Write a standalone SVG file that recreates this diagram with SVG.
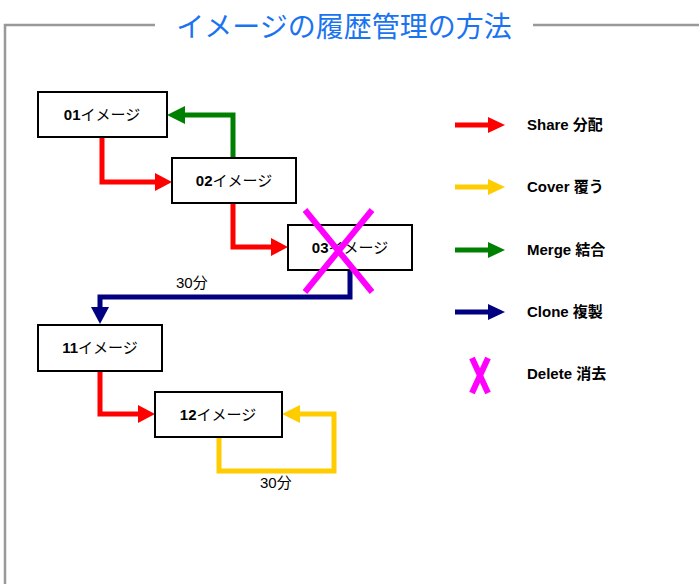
<svg xmlns="http://www.w3.org/2000/svg" width="699" height="585" viewBox="0 0 699 585">
<style>
.frame{fill:none;stroke:#999;stroke-width:2.5}
.box{fill:#fff;stroke:#000;stroke-width:2}
.lbl{font-family:"Liberation Sans","Noto Sans CJK JP",sans-serif;font-size:15px;text-anchor:middle;fill:#000}
.lbl .d{font-weight:bold}
.leg{font-family:"Liberation Sans","Noto Sans CJK JP",sans-serif;font-size:15px;font-weight:bold;fill:#000}
.note{font-family:"Liberation Sans","Noto Sans CJK JP",sans-serif;font-size:15px;fill:#000}
.ln{fill:none;stroke-width:5;stroke-linejoin:miter}
.red{stroke:#ff0000}.yel{stroke:#ffcc00}.grn{stroke:#008000}.nav{stroke:#000080}
.x{stroke:#ff00ff;stroke-width:6;fill:none}
</style>
<g id="frame">
<path class="frame" d="M5,584 V25 H155"/>
<path class="frame" d="M533,25 H699"/>
<text x="344" y="37" font-family="'Noto Sans CJK JP',sans-serif" font-size="28" fill="#1a73f0" text-anchor="middle">イメージの履歴管理の方法</text>
</g>
<g id="connectors">
<path class="ln red" d="M102,137 V182 H157"/>
<polygon points="155,173 172,182 155,191" fill="#ff0000"/>
<path class="ln grn" d="M233,158 V115 H183"/>
<polygon points="185,106 167,115 185,124" fill="#008000"/>
<path class="ln red" d="M233,203 V247 H273"/>
<polygon points="271,238 288,247 271,256" fill="#ff0000"/>
<path class="ln nav" d="M350,270 V297 H100 V310"/>
<polygon points="91,307 100,324 109,307" fill="#000080"/>
<path class="ln red" d="M100,371 V414 H140"/>
<polygon points="138,405 155,414 138,423" fill="#ff0000"/>
<path class="ln yel" d="M219,437 V471 H334 V414 H298"/>
<polygon points="300,405 282,414 300,423" fill="#ffcc00"/>
<text class="note" x="176" y="288">30分</text>
<text class="note" x="260" y="488">30分</text>
</g>
<g id="n01"><rect class="box" x="38" y="92" width="129" height="45"/><text class="lbl" x="102" y="120"><tspan class="d">01</tspan>イメージ</text></g>
<g id="n02"><rect class="box" x="172" y="158" width="124" height="45"/><text class="lbl" x="234" y="186"><tspan class="d">02</tspan>イメージ</text></g>
<g id="n03"><rect class="box" x="288" y="225" width="124" height="45"/><text class="lbl" x="350" y="253"><tspan class="d">03</tspan>イメージ</text></g>
<g id="n11"><rect class="box" x="38" y="325" width="124" height="46"/><text class="lbl" x="100" y="353"><tspan class="d">11</tspan>イメージ</text></g>
<g id="n12"><rect class="box" x="155" y="392" width="127" height="45"/><text class="lbl" x="218" y="420"><tspan class="d">12</tspan>イメージ</text></g>
<g id="delete-mark"><path class="x" d="M305,210 L372,292 M372,210 L305,292"/></g>
<g id="legend">
<path class="ln red" d="M455,125 H490"/><polygon points="488,117 505,125 488,133" fill="#ff0000"/>
<text class="leg" x="527" y="130">Share 分配</text>
<path class="ln yel" d="M455,187 H490"/><polygon points="488,179 505,187 488,195" fill="#ffcc00"/>
<text class="leg" x="527" y="192">Cover 覆う</text>
<path class="ln grn" d="M455,250 H490"/><polygon points="488,242 505,250 488,258" fill="#008000"/>
<text class="leg" x="527" y="255">Merge 結合</text>
<path class="ln nav" d="M455,312 H490"/><polygon points="488,304 505,312 488,320" fill="#000080"/>
<text class="leg" x="527" y="317">Clone 複製</text>
<path class="x" d="M472,358 L488,393 M488,358 L472,393"/>
<text class="leg" x="527" y="379">Delete 消去</text>
</g>
</svg>
